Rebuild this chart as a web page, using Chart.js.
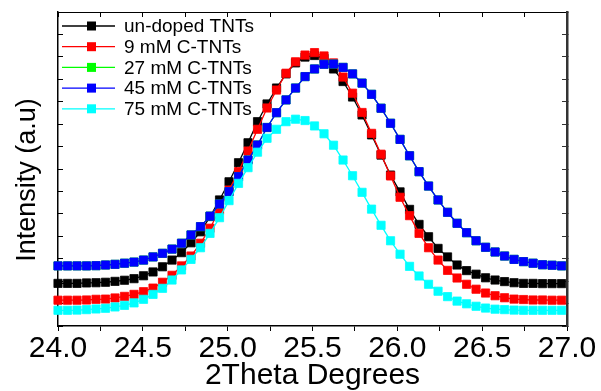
<!DOCTYPE html>
<html>
<head>
<meta charset="utf-8">
<title>XRD (101) peak</title>
<script src="https://cdn.jsdelivr.net/npm/chart.js@4.4.1/dist/chart.umd.min.js"></script>
<style>
  html, body { margin: 0; padding: 0; background: #fff; }
  #wrap { width: 601px; height: 391px; position: relative; }
</style>
</head>
<body>
<div id="wrap"><canvas id="xrd"></canvas></div>
<script>
// ── data ─────────────────────────────────────────────────────────────────────
const twoTheta = [
  24.000, 24.056, 24.112, 24.168, 24.224, 24.280, 24.336, 24.392, 24.448, 24.504,
  24.560, 24.616, 24.672, 24.728, 24.784, 24.840, 24.896, 24.952, 25.008, 25.064,
  25.120, 25.176, 25.232, 25.288, 25.344, 25.400, 25.456, 25.512, 25.568, 25.624,
  25.680, 25.736, 25.792, 25.848, 25.904, 25.960, 26.016, 26.072, 26.128, 26.184,
  26.240, 26.296, 26.352, 26.408, 26.464, 26.520, 26.576, 26.632, 26.688, 26.744,
  26.800, 26.856, 26.912, 26.968
];

const undoped = [
  190, 190, 190, 192, 193, 195, 199, 204, 211, 224,
  241, 264, 294, 327, 371, 420, 488, 562, 643, 728,
  817, 911, 990, 1061, 1124, 1173, 1199, 1206, 1193, 1146,
  1090, 1021, 941, 852, 762, 673, 598, 520, 453, 398,
  346, 308, 272, 247, 231, 215, 205, 198, 193, 190,
  190, 189, 189, 189
];

const c9mM = [
  115, 115, 115, 116, 119, 120, 125, 132, 141, 153,
  169, 195, 226, 268, 312, 369, 436, 517, 606, 688,
  780, 877, 972, 1052, 1127, 1178, 1208, 1219, 1204, 1173,
  1110, 1038, 952, 859, 766, 669, 574, 492, 413, 349,
  294, 248, 214, 186, 164, 147, 135, 126, 120, 118,
  116, 116, 115, 115
];

// 27 mM is not visible in the picture: it sits under the 45 mM curve
const c27mM = [
  268, 268, 268, 268, 269, 272, 275, 280, 285, 294,
  308, 324, 343, 369, 406, 443, 490, 544, 599, 666,
  740, 807, 885, 951, 1008, 1061, 1112, 1146, 1167, 1168,
  1153, 1124, 1083, 1033, 971, 904, 832, 759, 688, 624,
  562, 507, 458, 416, 380, 351, 330, 312, 297, 287,
  280, 273, 271, 268
];

const c45mM = [
  268, 268, 268, 268, 269, 272, 275, 280, 285, 294,
  308, 324, 343, 369, 406, 443, 490, 544, 599, 666,
  740, 807, 885, 951, 1008, 1061, 1112, 1146, 1167, 1168,
  1153, 1124, 1083, 1033, 971, 904, 832, 759, 688, 624,
  562, 507, 458, 416, 380, 351, 330, 312, 297, 287,
  280, 273, 271, 268
];

const c75mM = [
  70, 70, 71, 73, 76, 79, 85, 92, 103, 119,
  141, 168, 205, 250, 297, 349, 413, 483, 559, 636,
  706, 775, 837, 877, 911, 922, 916, 892, 857, 806,
  740, 670, 596, 521, 449, 380, 320, 266, 223, 186,
  155, 131, 111, 99, 88, 80, 75, 73, 71, 70,
  70, 70, 70, 70
];

const seriesLabels = ['un-doped TNTs', '9 mM C-TNTs', '27 mM C-TNTs', '45 mM C-TNTs', '75 mM C-TNTs'];
const seriesValues = [undoped, c9mM, c27mM, c45mM, c75mM];
const seriesColors = ['#000000', '#ff0000', '#00ff00', '#0000ff', '#00ffff'];

const xTitle = '2Theta Degrees';
const yTitleText = 'Intensity (a.u)';

// ── chart ───────────────────────────────────────────────────────────────────
const FONT = '"Liberation Sans", Arial, sans-serif';

function isHalf(v) {
    return Math.abs(v * 2 - Math.round(v * 2)) < 1e-6;
}

// legend drawn inside the plot, top-left, like the original
const insideLegend = {
    id: 'insideLegend',
    afterDatasetsDraw(chart) {
        const { ctx, chartArea } = chart;
        ctx.save();
        ctx.font = '19px ' + FONT;
        ctx.textBaseline = 'middle';
        chart.data.datasets.forEach((ds, i) => {
            const y = chartArea.top + 14 + i * 20.7;
            const x0 = chartArea.left + 4;
            ctx.strokeStyle = ds.borderColor;
            ctx.lineWidth = 1.3;
            ctx.beginPath();
            ctx.moveTo(x0, y);
            ctx.lineTo(x0 + 53, y);
            ctx.stroke();
            ctx.fillStyle = ds.pointBackgroundColor;
            ctx.fillRect(x0 + 25, y - 4.5, 9, 9);
            ctx.fillStyle = '#000';
            ctx.fillText(ds.label, x0 + 62, y + 1);
        });
        ctx.restore();
    }
};

// rotated y title, sits a bit below the middle of the axis
const yTitle = {
    id: 'yTitle',
    afterDraw(chart) {
        const { ctx, chartArea } = chart;
        ctx.save();
        ctx.translate(35, (chartArea.top + chartArea.bottom) / 2 + 11);
        ctx.rotate(-Math.PI / 2);
        ctx.font = '27px ' + FONT;
        ctx.fillStyle = '#000';
        ctx.textAlign = 'center';
        ctx.textBaseline = 'alphabetic';
        ctx.fillText(yTitleText, 0, 0);
        ctx.restore();
    }
};

const datasets = seriesLabels.map((label, i) => ({
    label,
    data: twoTheta.map((t, j) => ({ x: t, y: seriesValues[i][j] })),
    borderColor: seriesColors[i],
    backgroundColor: seriesColors[i],
    pointBackgroundColor: seriesColors[i],
    pointBorderColor: seriesColors[i],
    borderWidth: 1.3,
    pointStyle: 'rect',
    pointRadius: 5.8,
    pointBorderWidth: 0.8,
    tension: 0,
    clip: false,
    order: seriesLabels.length - i   // later series drawn on top
}));

const hiddenTicks = { callback: () => '', font: { size: 1 } };

new Chart(document.getElementById('xrd'), {
    type: 'line',
    data: { datasets },
    plugins: [insideLegend, yTitle],
    options: {
        animation: false,
        responsive: true,
        maintainAspectRatio: false,
        events: [],
        layout: { padding: 0 },
        plugins: { legend: { display: false }, tooltip: { enabled: false } },
        scales: {
            x: {
                type: 'linear', position: 'bottom', min: 24, max: 27,
                ticks: {
                    stepSize: 0.25, autoSkip: false, maxRotation: 0, padding: 0,
                    color: '#000', font: { family: FONT, size: 30 },
                    callback: v => isHalf(v) ? v.toFixed(1) : ''
                },
                grid: { drawOnChartArea: false, tickLength: 5, color: '#000' },
                border: { color: '#000', width: 1.5 },
                title: {
                    display: true, text: xTitle, color: '#000',
                    font: { family: FONT, size: 30, lineHeight: 1 },
                    padding: { top: 0, bottom: 0 }
                },
                afterFit: s => { s.height = 65; }
            },
            xTop: {
                type: 'linear', position: 'top', min: 24, max: 27,
                ticks: Object.assign({ stepSize: 0.25, autoSkip: false }, hiddenTicks),
                grid: { drawOnChartArea: false, tickLength: -5, color: '#000' },
                border: { color: '#000', width: 1 },
                afterFit: s => { s.height = 12; }
            },
            y: {
                type: 'linear', position: 'left', min: 0, max: 1400,
                ticks: Object.assign({ stepSize: 100 }, hiddenTicks),
                grid: { drawOnChartArea: false, tickLength: -5, color: '#000' },
                border: { color: '#000', width: 1.5 },
                afterFit: s => { s.width = 58; }
            },
            yRight: {
                type: 'linear', position: 'right', min: 0, max: 1400,
                ticks: Object.assign({ stepSize: 100 }, hiddenTicks),
                grid: { drawOnChartArea: false, tickLength: -5, color: '#333' },
                border: { color: '#333', width: 2.5 },
                afterFit: s => { s.width = 34; }
            }
        }
    }
});
</script>
</body>
</html>
